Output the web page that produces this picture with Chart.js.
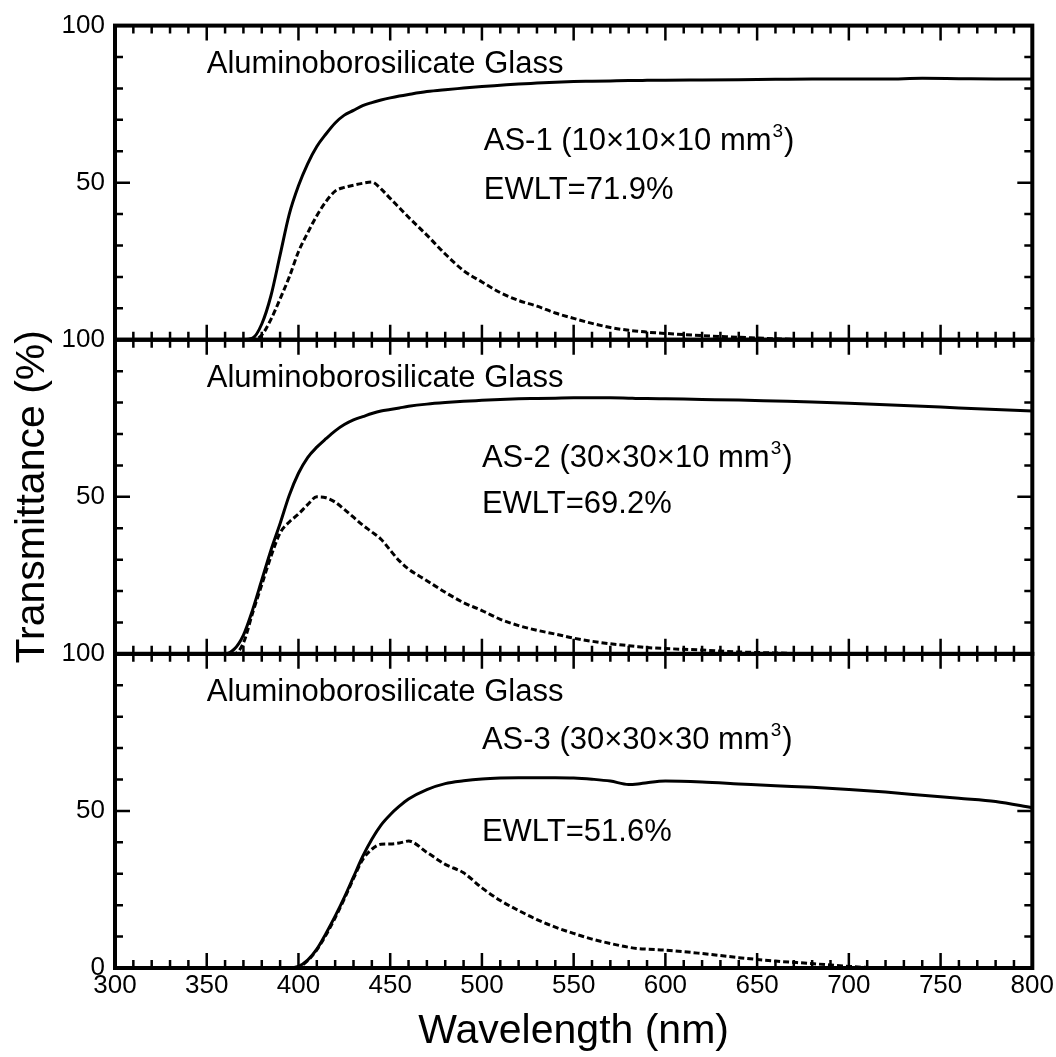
<!DOCTYPE html>
<html>
<head>
<meta charset="utf-8">
<script src="https://cdn.jsdelivr.net/npm/chart.js@4.4.1/dist/chart.umd.min.js"></script>
<style>
  html, body { margin: 0; padding: 0; background: #fff; }
  canvas { display: block; }
</style>
</head>
<body>
<canvas id="chart" width="1056" height="1057"></canvas>
<script>
// wavelength grid (nm) shared by every curve
const wavelengths = [300, 350, 360, 365, 370, 375, 380, 385, 390, 395, 400, 405, 410, 415, 420, 425,
  430, 435, 440, 445, 450, 455, 460, 470, 480, 490, 500, 510, 520, 530, 540, 550, 560, 570, 580,
  585, 590, 600, 620, 640, 660, 680, 700, 720, 740, 760, 780, 800];

// solid lines: transmittance, dashed lines: emission weighted transmittance
const as1Trans = [0, 0, 0, 0, 0, 0.5, 5, 14, 27, 40, 49, 56, 61.5, 65.5, 69, 71.5,
  73, 74.5, 75.5, 76.3, 77, 77.6, 78.1, 79, 79.6, 80.1, 80.6, 81, 81.4, 81.7, 82, 82.2, 82.3, 82.4, 82.5,
  82.5, 82.6, 82.6, 82.7, 82.8, 82.9, 83, 83, 83, 83.2, 83.1, 83, 83];
const as1Weighted = [0, 0, 0, 0, 0, 0, 1.5, 6.5, 13, 20, 28, 34, 39.5, 44, 47.3, 48.5,
  49.2, 49.8, 50.2, 48, 45, 42, 39, 33.3, 27.3, 22, 18.4, 15, 12.5, 10.7, 8.5, 6.8, 5.2, 3.9, 3,
  2.7, 2.4, 2, 1.3, 0.8, 0.3, 0, 0, 0, 0, 0, 0, 0];

const as2Trans = [0, 0, 0, 1.5, 6, 14, 23.5, 33, 41.5, 50.5, 57.5, 62.5, 65.8, 68.5, 71, 73,
  74.5, 75.5, 76.5, 77.3, 77.8, 78.3, 78.8, 79.5, 80, 80.4, 80.7, 81, 81.2, 81.3, 81.4, 81.5, 81.5, 81.5, 81.4,
  81.3, 81.3, 81.2, 81, 80.8, 80.5, 80.2, 79.8, 79.3, 78.8, 78.3, 77.8, 77.3];
const as2Weighted = [0, 0, 0, 0, 3.5, 13, 22, 31, 38.5, 42, 44.5, 47.5, 50, 49.7, 48.3, 46,
  43.5, 41, 38.8, 36.5, 33, 29.6, 27, 23.3, 19.6, 16.3, 13.8, 11, 9, 7.5, 6.3, 5, 4, 3.2, 2.6,
  2.3, 2, 1.7, 1.2, 0.6, 0.3, 0, 0, 0, 0, 0, 0, 0];

const as3Trans = [0, 0, 0, 0, 0, 0, 0, 0, 0, 0, 0.5, 2.5, 6, 11, 16.5, 22.5,
  29, 35.5, 41, 45.5, 48.8, 51.5, 53.8, 56.8, 58.7, 59.6, 60.2, 60.5, 60.6, 60.6, 60.6, 60.5, 60.1, 59.5, 58.4,
  58.6, 59, 59.5, 59.2, 58.6, 58, 57.5, 56.8, 56, 55, 54, 53, 51];
const as3Weighted = [0, 0, 0, 0, 0, 0, 0, 0, 0, 0, 0.3, 2.3, 5.8, 10.5, 16, 22,
  28.5, 34.5, 37.8, 39.4, 39.5, 39.8, 40.4, 36.8, 33, 30.3, 25.5, 21.5, 18.3, 15.4, 13, 11, 9.2, 7.8, 6.6,
  6.2, 6, 5.7, 4.6, 3.3, 2.2, 1.4, 0.5, 0, 0, 0, 0, 0];

const panelTitles = ['Aluminoborosilicate Glass', 'Aluminoborosilicate Glass', 'Aluminoborosilicate Glass'];
const sampleNames = ['AS-1 (10×10×10 mm', 'AS-2 (30×30×10 mm', 'AS-3 (30×30×30 mm'];
const ewltLabels = ['EWLT=71.9%', 'EWLT=69.2%', 'EWLT=51.6%'];

const xTicks = [300, 350, 400, 450, 500, 550, 600, 650, 700, 750, 800];

const panelAxes = ['yTop', 'yMid', 'yBot'];
// where the labels sit, in data units of each panel
const labelPos = [
  { title: [350, 85], name: [501, 60.3], ewlt: [501, 44.8] },
  { title: [350, 85], name: [500, 59.4], ewlt: [500, 45] },
  { title: [350, 85], name: [500, 69.7], ewlt: [500, 40.4] }
];

const FONT = "'Liberation Sans', Arial, Helvetica, sans-serif";
Chart.defaults.font.family = FONT;
Chart.defaults.color = '#000';

function toPoints(ys) {
  return wavelengths.map((w, i) => ({ x: w, y: ys[i] }));
}

function lineSet(ys, axis, dashed) {
  return {
    data: toPoints(ys),
    yAxisID: axis,
    borderColor: '#000',
    borderWidth: 3,
    borderDash: dashed ? [6, 3] : [],
    pointRadius: 0,
    fill: false,
    cubicInterpolationMode: 'monotone'
  };
}

const framePlugin = {
  id: 'frame',
  afterDatasetsDraw(chart) {
    const { ctx, chartArea: a, scales } = chart;
    const x = scales.x;
    ctx.save();
    ctx.strokeStyle = '#000';
    ctx.fillStyle = '#000';
    panelAxes.forEach((id, i) => {
      const s = scales[id];
      ctx.lineWidth = 2.5;
      ctx.beginPath();
      for (let v = 310; v < 800; v += 10) {
        const px = x.getPixelForValue(v);
        const len = v % 50 === 0 ? 15 : 8;
        ctx.moveTo(px, s.top); ctx.lineTo(px, s.top + len);
        ctx.moveTo(px, s.bottom); ctx.lineTo(px, s.bottom - len);
      }
      for (let v = 10; v < 100; v += 10) {
        const py = s.getPixelForValue(v);
        const len = v % 50 === 0 ? 15 : 8;
        ctx.moveTo(a.left, py); ctx.lineTo(a.left + len, py);
        ctx.moveTo(a.right, py); ctx.lineTo(a.right - len, py);
      }
      ctx.stroke();
      ctx.lineWidth = 4;
      ctx.strokeRect(a.left, s.top, a.right - a.left, s.bottom - s.top);

      const p = labelPos[i];
      ctx.textAlign = 'left';
      ctx.textBaseline = 'alphabetic';
      ctx.font = '31px ' + FONT;
      ctx.fillText(panelTitles[i], x.getPixelForValue(p.title[0]), s.getPixelForValue(p.title[1]));
      const nx = x.getPixelForValue(p.name[0]);
      const ny = s.getPixelForValue(p.name[1]);
      ctx.fillText(sampleNames[i], nx, ny);
      let w = ctx.measureText(sampleNames[i]).width;
      ctx.font = '19px ' + FONT;
      ctx.fillText('3', nx + w + 1, ny - 13);
      w += ctx.measureText('3').width + 2;
      ctx.font = '31px ' + FONT;
      ctx.fillText(')', nx + w, ny);
      ctx.fillText(ewltLabels[i], x.getPixelForValue(p.ewlt[0]), s.getPixelForValue(p.ewlt[1]));
    });
    ctx.restore();
  }
};

function yAxis(id, weight, isBottom, withTitle) {
  return {
    type: 'linear',
    position: 'left',
    stack: 'panels',
    stackWeight: 1,
    weight: weight,
    min: 0,
    max: 100,
    grid: { display: false, drawTicks: false },
    border: { display: false },
    ticks: {
      stepSize: 50,
      padding: 10,
      font: { size: 26 },
      callback: v => (v === 0 && !isBottom) ? '' : String(v)
    },
    title: {
      display: withTitle,
      text: 'Transmittance (%)',
      font: { size: 41 },
      padding: { top: 8, bottom: 0 }
    },
    afterFit: scale => { scale.width = 115; }
  };
}

new Chart(document.getElementById('chart').getContext('2d'), {
  type: 'line',
  data: {
    datasets: [
      lineSet(as1Trans, 'yTop', false),
      lineSet(as1Weighted, 'yTop', true),
      lineSet(as2Trans, 'yMid', false),
      lineSet(as2Weighted, 'yMid', true),
      lineSet(as3Trans, 'yBot', false),
      lineSet(as3Weighted, 'yBot', true)
    ]
  },
  options: {
    responsive: false,
    animation: false,
    layout: { padding: { top: 18, right: 21, left: 0, bottom: 0 } },
    plugins: { legend: { display: false }, tooltip: { enabled: false } },
    scales: {
      x: {
        type: 'linear',
        min: 300,
        max: 800,
        grid: { display: false, drawTicks: false },
        border: { display: false },
        afterBuildTicks: scale => { scale.ticks = xTicks.map(v => ({ value: v })); },
        ticks: { font: { size: 26 }, padding: 2, maxRotation: 0, autoSkip: false },
        title: {
          display: true,
          text: 'Wavelength (nm)',
          font: { size: 41 },
          padding: { top: 0, bottom: 1 }
        },
        afterFit: scale => { scale.height = 89; }
      },
      yBot: yAxis('yBot', 1, true, false),
      yMid: yAxis('yMid', 2, false, true),
      yTop: yAxis('yTop', 3, false, false)
    }
  },
  plugins: [framePlugin]
});
</script>
</body>
</html>
